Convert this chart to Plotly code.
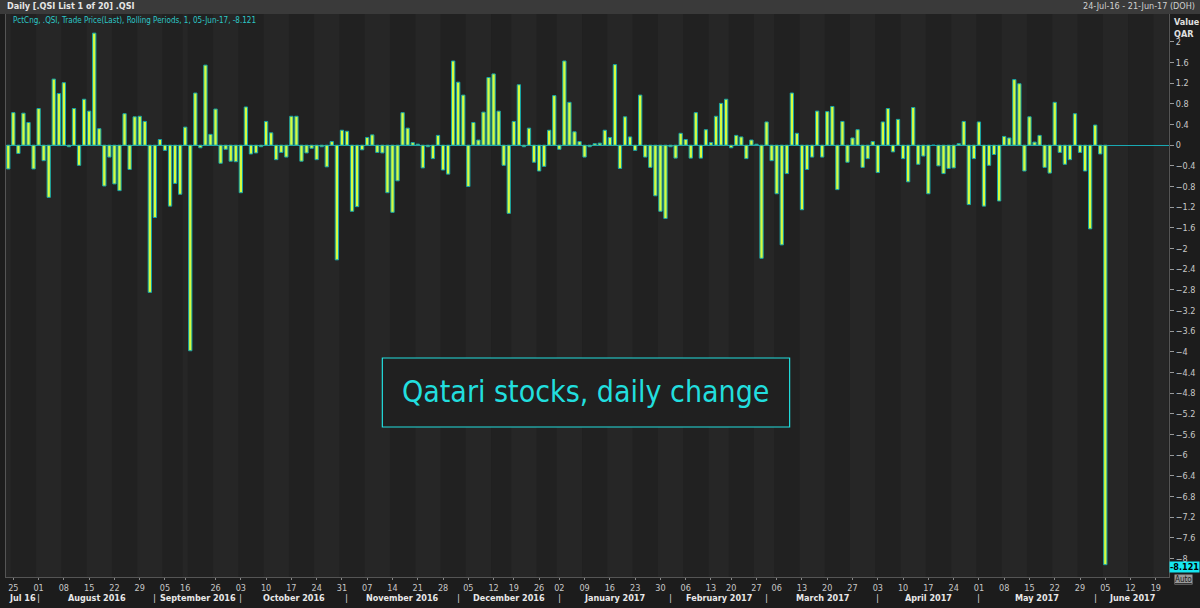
import plotly.graph_objects as go
import pandas as pd

## data ##
# daily % change of .QSI, one value per trading day from 24-Jul-16 to 05-Jun-17
pct_change = [
    -0.46, 0.63, -0.16, 0.62, 0.44, -0.46, 0.71, -0.30, -1.01, 1.28,
    1.00, 1.21, -0.03, 0.71, -0.39, 0.89, 0.66, 2.17, 0.32, -0.79,
    -0.23, -0.75, -0.88, 0.61, -0.47, 0.55, 0.56, 0.46, -2.85, -1.40,
    0.11, -0.10, -1.18, -0.74, -0.95, 0.35, -3.98, 1.01, -0.05, 1.55,
    0.21, 0.70, -0.35, -0.08, -0.31, -0.32, -0.92, 0.74, -0.17, -0.15,
    -0.03, 0.46, 0.24, -0.28, -0.14, -0.23, 0.56, 0.56, -0.31, -0.15,
    -0.06, -0.28, -0.03, -0.42, 0.07, -2.22, 0.29, 0.27, -1.28, -1.19,
    -0.09, 0.15, 0.20, -0.14, -0.15, -0.92, -1.30, -0.69, 0.63, 0.33,
    0.05, 0.02, -0.44, -0.03, -0.26, 0.19, -0.48, -0.56, 1.63, 1.22,
    0.97, -0.80, 0.44, 0.10, 0.64, 1.31, 1.38, 0.66, -0.39, -1.32,
    0.46, 1.17, -0.03, 0.33, -0.33, -0.50, -0.41, 0.29, 0.96, -0.08,
    1.63, 0.83, 0.26, 0.07, -0.23, -0.03, 0.03, 0.04, 0.29, 0.15,
    1.56, -0.45, 0.55, 0.16, -0.10, 0.97, -0.23, -0.43, -0.98, -1.28,
    -1.42, -0.03, -0.25, 0.23, 0.11, -0.25, 0.63, -0.25, 0.30, 0.05,
    0.56, 0.81, 0.89, -0.05, 0.19, 0.16, -0.26, 0.10, 0.02, -2.19,
    0.45, -0.30, -0.94, -1.93, -0.55, 1.01, 0.23, -1.25, -0.47, -0.23,
    0.66, -0.23, 0.65, 0.75, -0.86, 0.46, -0.33, 0.14, 0.30, -0.43,
    -0.26, 0.07, -0.53, 0.45, 0.71, -0.13, 0.50, -0.26, -0.71, 0.73,
    -0.37, -0.21, -0.94, 0.00, -0.40, -0.55, -0.45, -0.44, 0.03, 0.46,
    -1.15, -0.26, 0.45, -1.18, -0.39, -0.18, -1.08, 0.17, 0.14, 1.27,
    1.19, -0.50, 0.55, 0.06, 0.19, -0.43, -0.54, 0.83, -0.14, -0.37,
    -0.28, 0.61, -0.14, -0.50, -1.62, 0.39, -0.17, -8.121,
]

# QSE trades Sunday to Thursday
holidays = [
    "2016-09-11", "2016-09-12", "2016-09-13", "2016-09-14", "2016-09-15",
    "2016-12-18", "2017-01-01", "2017-02-14", "2017-03-05",
]
month_names = [
    "Jul 16", "August 2016", "September 2016", "October 2016", "November 2016",
    "December 2016", "January 2017", "February 2017", "March 2017", "April 2017",
    "May 2017", "June 2017",
]
y_ticks = [2, 1.6, 1.2, 0.8, 0.4, 0, -0.4, -0.8, -1.2, -1.6, -2, -2.4, -2.8, -3.2,
           -3.6, -4, -4.4, -4.8, -5.2, -5.6, -6, -6.4, -6.8, -7.2, -7.6, -8]

days = pd.bdate_range("2016-07-24", "2017-06-21", freq="C",
                      weekmask="Sun Mon Tue Wed Thu", holidays=holidays)
cats = [d.strftime("%Y-%m-%d") for d in days]

## weekly ticks (Mondays, the Eid week is labelled on its first day) ##
mondays = pd.date_range("2016-07-25", "2017-06-19", freq="W-MON")
tick_idx, tick_txt = [], []
for m in mondays:
    if m.strftime("%Y-%m-%d") in ("2016-09-12", "2016-09-19"):
        continue
    tick_idx.append(cats.index(m.strftime("%Y-%m-%d")))
    tick_txt.append(m.strftime("%d"))
tick_idx.insert(7, cats.index("2016-09-18"))
tick_txt.insert(7, "16")

BG = "#1c1c1c"
PLOT_BG = "#212121"
CYAN = "#22dede"
FONT = "DejaVu Sans Condensed"

fig = go.Figure()
fig.add_trace(go.Bar(
    x=cats[:len(pct_change)],
    y=pct_change,
    marker=dict(color="#d6fb3e", line=dict(color="#15a3a8", width=1)),
    hovertemplate="%{x}: %{y:.3f}<extra></extra>",
))

shapes = []
# alternating weekly bands
week_starts = [i for i, d in enumerate(days) if i == 0 or d.week != days[i - 1].week]
week_starts.append(len(cats))
for k in range(0, len(week_starts) - 1, 2):
    shapes.append(dict(type="rect", xref="x", yref="paper",
                       x0=week_starts[k] - 0.5, x1=week_starts[k + 1] - 0.5,
                       y0=0, y1=1, fillcolor="#262626", line_width=0, layer="below"))
# header band
shapes.append(dict(type="rect", xref="paper", yref="paper", x0=-0.01, x1=1.04,
                   y0=1.0, y1=1.03, fillcolor="#3a3a3a", line_width=0))
# title box
shapes.append(dict(type="rect", xref="paper", yref="paper", x0=0.3236, x1=0.6738,
                   y0=0.2664, y1=0.389, line=dict(color=CYAN, width=1.2),
                   fillcolor="#202020"))

annotations = [
    dict(text="Qatari stocks, daily change", xref="paper", yref="paper",
         x=0.4987, y=0.3286, xanchor="center", yanchor="middle", showarrow=False,
         font=dict(family=FONT, size=30, color=CYAN)),
    dict(text="<b>Daily [.QSI List 1 of 20] .QSI</b>", xref="paper", yref="paper",
         x=-0.001, y=1.0135, xanchor="left", yanchor="middle", showarrow=False,
         font=dict(family=FONT, size=9, color="#e6e6e6")),
    dict(text="24-Jul-16 - 21-Jun-17 (DOH)", xref="paper", yref="paper",
         x=1.0245, y=1.0135, xanchor="right", yanchor="middle", showarrow=False,
         font=dict(family=FONT, size=9, color="#d0d0d0")),
    dict(text="PctCng, .QSI, Trade Price(Last), Rolling Periods, 1, 05-Jun-17, -8.121",
         xref="paper", yref="paper", x=0.004, y=0.988, xanchor="left",
         yanchor="middle", showarrow=False,
         font=dict(family=FONT, size=8, color="#2cc8c8")),
    dict(text="<b>Value</b><br><b>QAR</b>", xref="paper", yref="paper",
         x=1.003, y=0.998, xanchor="left", yanchor="top", showarrow=False, align="left",
         font=dict(family=FONT, size=9, color="#e0e0e0")),
    dict(text="<b>-8.121</b>", xref="paper", yref="y", x=1.0, y=-8.121, yshift=-2,
         xanchor="left", yanchor="middle", showarrow=False, bgcolor="#16e6f0",
         borderpad=0, font=dict(family=FONT, size=9, color="#000000")),
    dict(text="<u>Auto</u>", xref="paper", yref="paper", x=1.004, y=0.0, yshift=-2,
         xanchor="left", yanchor="middle", showarrow=False, bgcolor="#9a9a9a",
         borderpad=0, font=dict(family=FONT, size=8, color="#1a1a1a")),
]

## month labels with separators ##
month_first = []
for i, d in enumerate(days):
    if d.weekday() < 5 and (not month_first or d.month != days[month_first[-1]].month):
        month_first.append(i)
bounds = [-0.5] + month_first[1:] + [229.6]
for k, name in enumerate(month_names):
    annotations.append(dict(text="<b>" + name + "</b>", xref="x", yref="paper",
                            x=(bounds[k] + bounds[k + 1]) / 2, y=-0.037,
                            showarrow=False, yanchor="middle",
                            font=dict(family=FONT, size=9, color="#e8e8e8")))
for b in month_first[1:]:
    annotations.append(dict(text="|", xref="x", yref="paper", x=b, y=-0.037,
                            showarrow=False, yanchor="middle",
                            font=dict(family="DejaVu Sans", size=9, color="#d0d0d0")))

fig.update_layout(
    width=1200,
    height=608,
    margin=dict(l=5, r=30, t=14, b=31),
    paper_bgcolor=BG,
    plot_bgcolor=PLOT_BG,
    showlegend=False,
    bargap=0.35,
    shapes=shapes,
    annotations=annotations,
    xaxis=dict(
        type="category",
        categoryorder="array",
        categoryarray=cats,
        range=[-0.45, 229.6],
        tickmode="array",
        tickvals=tick_idx,
        ticktext=tick_txt,
        ticks="outside",
        ticklen=2,
        tickcolor="#888888",
        tickfont=dict(family=FONT, size=9, color="#c8c8c8"),
        showgrid=False,
        showline=True,
        linecolor="#555555",
        mirror=True,
        fixedrange=True,
    ),
    yaxis=dict(
        side="right",
        range=[-8.36, 2.54],
        tickmode="array",
        tickvals=y_ticks,
        ticks="outside",
        ticklen=4,
        tickcolor="#999999",
        tickfont=dict(family=FONT, size=9, color="#c8c8c8"),
        showgrid=False,
        zeroline=True,
        zerolinecolor="#19a9b3",
        zerolinewidth=1,
        showline=True,
        linecolor="#555555",
        mirror=True,
        fixedrange=True,
    ),
)

# the page body has a default 8px margin; drop it so the chart sits at 0,0
fig.write_html("out.html", config={"displayModeBar": False},
               post_script="document.body.style.margin='0';")
